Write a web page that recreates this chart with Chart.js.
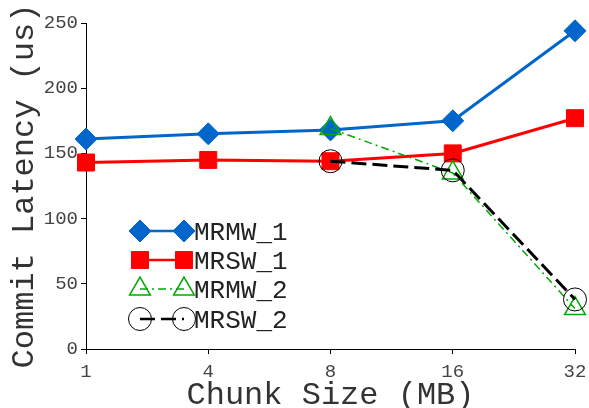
<!DOCTYPE html>
<html>
<head>
<meta charset="utf-8">
<script src="https://cdn.jsdelivr.net/npm/chart.js@4.4.1/dist/chart.umd.min.js"></script>
<style>
  html, body { margin: 0; padding: 0; background: #fff; }
  #wrap { width: 589px; height: 408px; }
</style>
</head>
<body>
<div id="wrap"><canvas id="chart" width="589" height="408"></canvas></div>
<script>
// chunk sizes on the x axis
const sizes = ["1", "4", "8", "16", "32"];

// commit latency (us) per series
const mrmw1 = [161, 165, 168, 175, 244];
const mrsw1 = [143, 145, 144, 150, 177];
const mrmw2 = [null, null, 169, 135, 31];
const mrsw2 = [null, null, 144, 137, 38];

const MONO = "'Liberation Mono', 'Courier New', monospace";

// legend sits inside the plot, each sample is a line with a marker on both ends
const innerLegend = {
  id: "innerLegend",
  afterDraw(chart) {
    const ctx = chart.ctx;
    const x0 = 140, x1 = 184, textX = 194;
    const rows = [231, 260, 289, 319];
    chart.data.datasets.forEach((ds, i) => {
      const y = rows[i];
      ctx.save();
      ctx.strokeStyle = ds.borderColor;
      ctx.lineWidth = Math.min(ds.borderWidth, 2.5);
      ctx.setLineDash(ds.borderDash || []);
      ctx.beginPath();
      ctx.moveTo(x0, y);
      ctx.lineTo(x1, y);
      ctx.stroke();
      ctx.setLineDash([]);
      for (const px of [x0, x1]) {
        ctx.fillStyle = ds.pointBackgroundColor;
        ctx.strokeStyle = ds.pointBorderColor;
        ctx.lineWidth = ds.pointBorderWidth;
        Chart.helpers.drawPoint(ctx, {
          pointStyle: ds.pointStyle,
          radius: ds.pointRadius,
          rotation: 0,
          borderWidth: ds.pointBorderWidth,
        }, px, y);
      }
      ctx.fillStyle = "#222";
      ctx.font = "26px " + MONO;
      ctx.textBaseline = "middle";
      ctx.textAlign = "left";
      ctx.fillText(ds.label, textX, y + 2);
      ctx.restore();
    });
  },
};

const ctx = document.getElementById("chart");
new Chart(ctx, {
  type: "line",
  data: {
    labels: sizes,
    datasets: [
      {
        label: "MRMW_1",
        data: mrmw1,
        borderColor: "#0066cc",
        borderWidth: 3,
        pointStyle: "rectRot",
        pointRadius: 11,
        pointBackgroundColor: "#0066cc",
        pointBorderColor: "#0066cc",
        pointBorderWidth: 1,
        order: 4,
      },
      {
        label: "MRSW_1",
        data: mrsw1,
        borderColor: "#ff0000",
        borderWidth: 3,
        pointStyle: "rect",
        pointRadius: 12,
        pointBackgroundColor: "#ff0000",
        pointBorderColor: "#ff0000",
        pointBorderWidth: 1,
        order: 3,
      },
      {
        label: "MRMW_2",
        data: mrmw2,
        borderColor: "#00aa00",
        borderWidth: 1.5,
        borderDash: [8, 4, 2, 4],
        pointStyle: "triangle",
        pointRadius: 12,
        pointBackgroundColor: "rgba(0,0,0,0)",
        pointBorderColor: "#00aa00",
        pointBorderWidth: 1.5,
        order: 2,
      },
      {
        label: "MRSW_2",
        data: mrsw2,
        borderColor: "#000000",
        borderWidth: 3,
        borderDash: [15, 6],
        pointStyle: "circle",
        pointRadius: 11.5,
        pointBackgroundColor: "rgba(0,0,0,0)",
        pointBorderColor: "#000000",
        pointBorderWidth: 1,
        order: 1,
      },
    ],
  },
  options: {
    responsive: false,
    animation: false,
    clip: false,
    layout: { padding: { top: 23, right: 14, left: 0, bottom: 0 } },
    plugins: {
      legend: { display: false },
      tooltip: { enabled: false },
    },
    elements: { line: { tension: 0 } },
    scales: {
      x: {
        offset: false,
        afterFit: (scale) => {
          scale.height = 59;
          scale.paddingLeft = 0;
          scale.paddingRight = 0;
        },
        grid: { drawOnChartArea: false, drawTicks: true, tickLength: 5, color: "#000" },
        border: { color: "#000", width: 1 },
        ticks: { color: "#444", font: { family: MONO, size: 19 }, padding: 7, maxRotation: 0 },
        title: {
          display: true,
          text: "Chunk Size (MB)",
          color: "#333",
          font: { family: MONO, size: 32, lineHeight: 0.8 },
          padding: { top: 0, bottom: 0 },
        },
      },
      y: {
        min: 0,
        max: 250,
        afterFit: (scale) => { scale.width = 86; },
        grid: { drawOnChartArea: false, drawTicks: true, tickLength: 5, color: "#000" },
        border: { color: "#000", width: 1 },
        ticks: { stepSize: 50, color: "#444", font: { family: MONO, size: 19 }, padding: 3 },
        title: {
          display: true,
          text: "Commit Latency (us)",
          color: "#333",
          font: { family: MONO, size: 32 },
          padding: { top: 5, bottom: 0 },
        },
      },
    },
  },
  plugins: [innerLegend],
});
</script>
</body>
</html>
